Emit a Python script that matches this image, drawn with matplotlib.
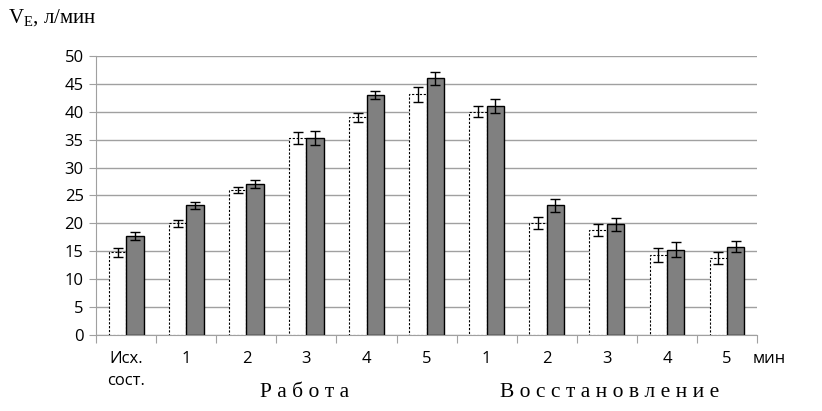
import numpy as np
import matplotlib
matplotlib.use('Agg')
from matplotlib import pyplot as plt

# данные
labels = ['Исх.\nсост.', '1', '2', '3', '4', '5', '1', '2', '3', '4', '5']
white_vals = [14.8, 20.0, 26.0, 35.3, 39.0, 43.1, 40.0, 20.0, 18.8, 14.3, 13.8]
white_err = [0.8, 0.6, 0.6, 1.0, 0.8, 1.3, 1.0, 1.1, 1.0, 1.3, 1.0]
gray_vals = [17.8, 23.2, 27.0, 35.3, 43.0, 46.0, 41.0, 23.2, 19.8, 15.3, 15.8]
gray_err = [0.7, 0.6, 0.7, 1.3, 0.8, 1.2, 1.2, 1.1, 1.2, 1.3, 1.0]


def draw():
    fig = plt.figure(figsize=(8.22, 4.11), dpi=100)
    ax = fig.add_axes([0.117, 0.185, 0.804, 0.679])
    x = np.arange(len(labels))
    w = 0.29
    ax.bar(x - w / 2, white_vals, w, color='white', edgecolor='black',
           linestyle=(0, (2, 1.5)), linewidth=0.8, zorder=2)
    ax.bar(x + w / 2, gray_vals, w, color='#808080', edgecolor='black',
           linewidth=1.0, zorder=2)
    ax.errorbar(x - w / 2, white_vals, yerr=white_err, fmt='none',
                ecolor='black', elinewidth=1, capsize=3.5, zorder=3)
    ax.errorbar(x + w / 2, gray_vals, yerr=gray_err, fmt='none',
                ecolor='black', elinewidth=1, capsize=3.5, zorder=3)

    ax.set_xlim(-0.5, len(labels) - 0.5)
    ax.set_ylim(0, 50)
    ax.set_yticks(np.arange(0, 51, 5))
    ax.yaxis.grid(True, color='#a0a0a0', linewidth=1)
    ax.set_axisbelow(True)
    for s in ['top', 'right']:
        ax.spines[s].set_visible(False)
    ax.spines['left'].set_color('#a0a0a0')
    ax.spines['bottom'].set_color('#a0a0a0')
    ax.tick_params(axis='y', length=5, color='#a0a0a0', labelsize=12,
                   pad=4)
    # деления между группами
    ax.set_xticks(np.arange(-0.5, len(labels), 1.0))
    ax.set_xticklabels([])
    ax.tick_params(axis='x', length=6, color='#a0a0a0')
    for i, lab in enumerate(labels):
        ax.text(i, -2.8, lab, ha='center', va='top', fontsize=12,
                family='Open Sans', linespacing=1.5)
    ax.text(len(labels) - 0.58, -2.8, 'мин', ha='left', va='top',
            fontsize=12, family='Open Sans')
    for t in ax.get_yticklabels():
        t.set_family('Open Sans')

    fig.text(0.01, 0.955, r'V$_{\mathrm{E}}$, л/мин', fontsize=15,
             family='Liberation Serif', va='center')
    fig.text(0.37, 0.045, 'Р а б о т а', fontsize=15.5,
             family='Liberation Serif', ha='center', va='center')
    fig.text(0.742, 0.045, 'В о с с т а н о в л е н и е',
             fontsize=15.5, family='Liberation Serif', ha='center', va='center')
    fig.savefig('out.png', dpi=100)


if __name__ == '__main__':
    plt.rcParams['mathtext.fontset'] = 'custom'
    plt.rcParams['mathtext.rm'] = 'Liberation Serif'
    draw()
